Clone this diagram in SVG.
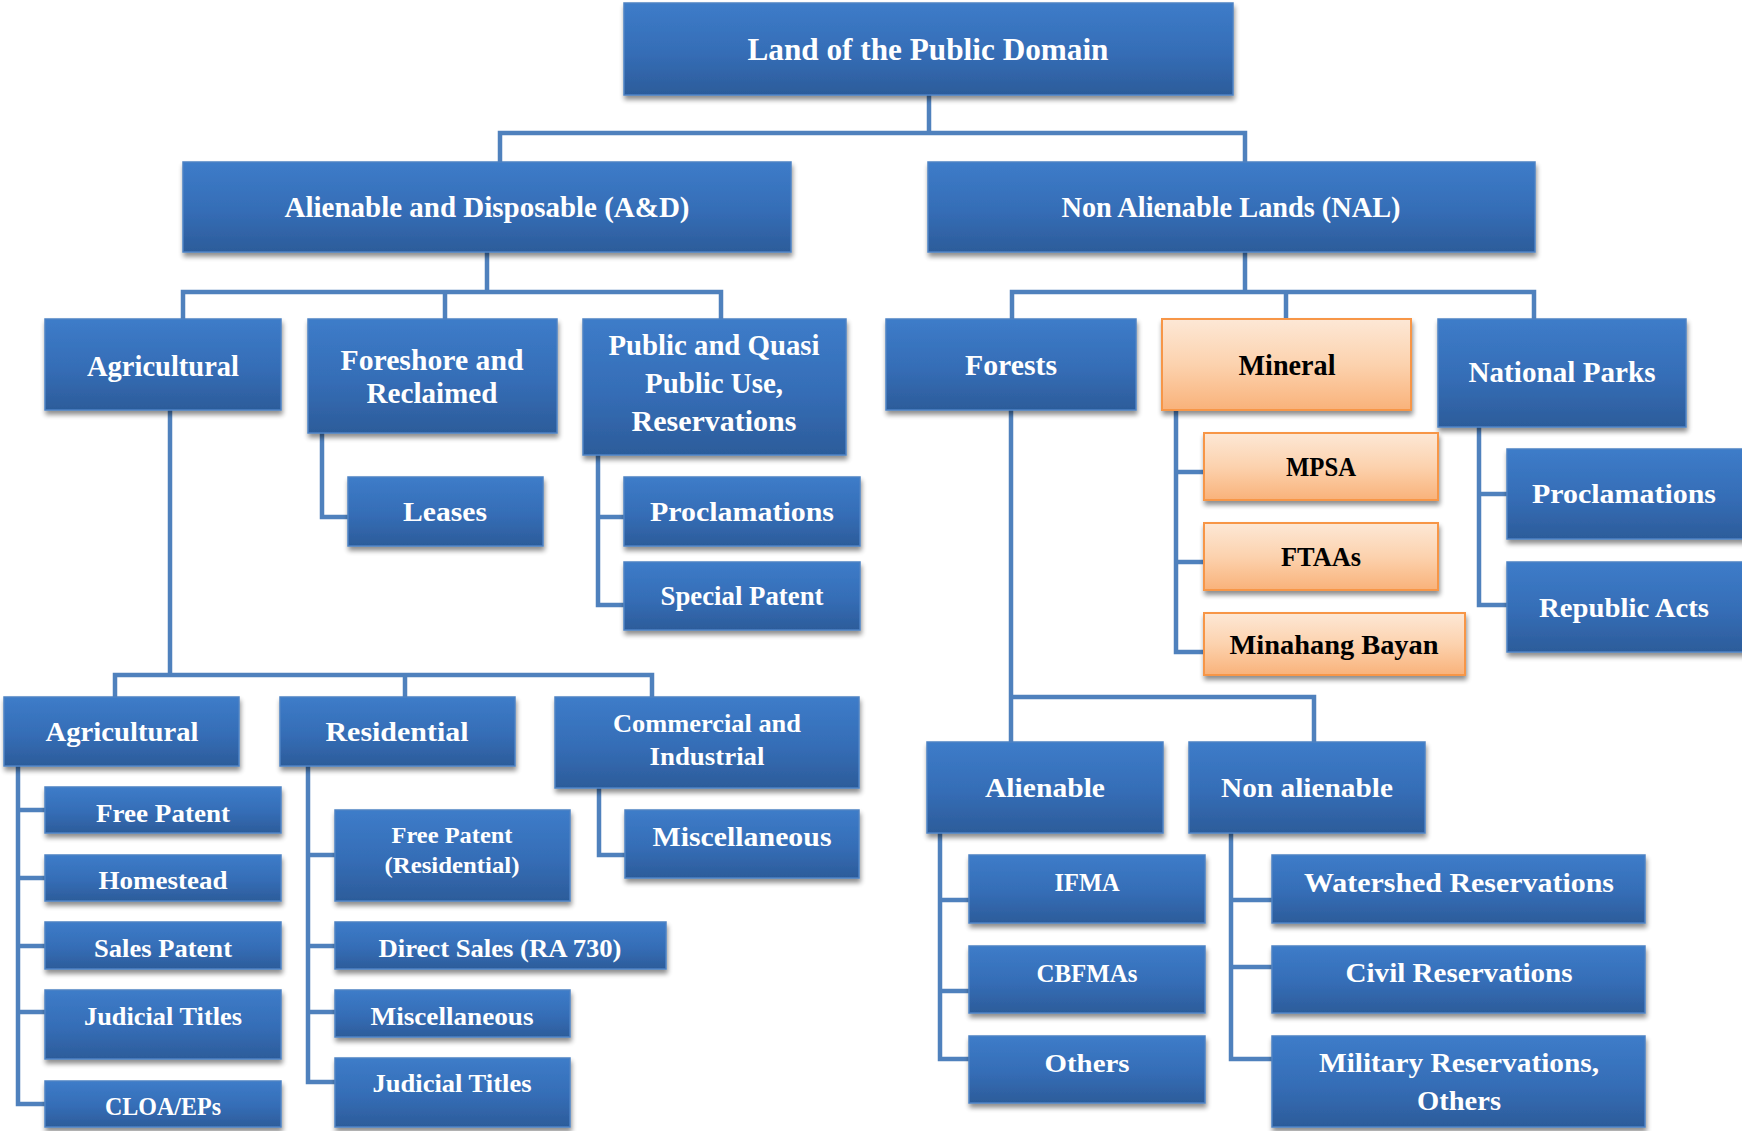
<svg xmlns="http://www.w3.org/2000/svg" width="1742" height="1131" viewBox="0 0 1742 1131">
<defs>
<linearGradient id="blue" x1="0" y1="0" x2="0" y2="1">
<stop offset="0" stop-color="#3d7cc9"/>
<stop offset="0.55" stop-color="#356db6"/>
<stop offset="1" stop-color="#2c5c9a"/>
</linearGradient>
<linearGradient id="orange" x1="0" y1="0" x2="0" y2="1">
<stop offset="0" stop-color="#fde8d6"/>
<stop offset="0.5" stop-color="#fcd2ae"/>
<stop offset="1" stop-color="#f9b27a"/>
</linearGradient>
<filter id="sh" x="-10%" y="-10%" width="120%" height="140%">
<feGaussianBlur in="SourceAlpha" stdDeviation="2.5"/>
<feOffset dx="1" dy="4" result="b"/>
<feComponentTransfer><feFuncA type="linear" slope="0.45"/></feComponentTransfer>
<feMerge><feMergeNode/><feMergeNode in="SourceGraphic"/></feMerge>
</filter>
</defs>
<style>
.b{fill:url(#blue);stroke:#4d82c4;stroke-width:1.5;filter:url(#sh)}
.o{fill:url(#orange);stroke:#f79646;stroke-width:2;filter:url(#sh)}
.t{font-family:"Liberation Serif","DejaVu Serif",serif;font-weight:bold;fill:#ffffff;text-anchor:middle}
.k{fill:#000000}
.c{fill:none;stroke:#4f81bd;stroke-width:4.5;stroke-linejoin:miter;stroke-linecap:butt}
</style>
<rect width="1742" height="1131" fill="#ffffff"/>

<g id="connectors">
<path class="c" d="M929 95V133M500 162V133H1245V162"/>
<path class="c" d="M487 252V292M183 320V292H721V320M445 292V320"/>
<path class="c" d="M1245 252V292M1012 320V292H1534V320M1286 292V320"/>
<path class="c" d="M322 433V517H348"/>
<path class="c" d="M598 455V605H624M598 517H624"/>
<path class="c" d="M1176 410V652H1204M1176 472H1204M1176 562H1204"/>
<path class="c" d="M1479 427V605H1507M1479 494H1507"/>
<path class="c" d="M170 410V675M115 697V675H652V697M405 675V697"/>
<path class="c" d="M18 766V1104H45M18 810H45M18 878H45M18 946H45M18 1012H45"/>
<path class="c" d="M308 766V1082H335M308 855H335M308 946H335M308 1012H335"/>
<path class="c" d="M599 788V855H625"/>
<path class="c" d="M1011 410V697M1011 742V697H1314V742"/>
<path class="c" d="M940 833V1059H969M940 900H969M940 991H969"/>
<path class="c" d="M1231 833V1059H1272M1231 900H1272M1231 967H1272"/>
</g>

<g id="root"><rect class="b" x="624" y="3" width="609" height="92"/><text class="t" x="928" y="60" font-size="31" textLength="361" lengthAdjust="spacingAndGlyphs">Land of the Public Domain</text></g>
<g id="ad"><rect class="b" x="183" y="162" width="608" height="90"/><text class="t" x="487" y="217" font-size="30" textLength="405" lengthAdjust="spacingAndGlyphs">Alienable and Disposable (A&amp;D)</text></g>
<g id="nal"><rect class="b" x="928" y="162" width="607" height="90"/><text class="t" x="1231" y="217" font-size="30" textLength="339" lengthAdjust="spacingAndGlyphs">Non Alienable Lands (NAL)</text></g>

<g id="agri"><rect class="b" x="45" y="319" width="236" height="91"/><text class="t" x="163" y="376" font-size="29" textLength="152" lengthAdjust="spacingAndGlyphs">Agricultural</text></g>
<g id="foreshore"><rect class="b" x="308" y="319" width="249" height="114"/><text class="t" x="432" y="370" font-size="29" textLength="183" lengthAdjust="spacingAndGlyphs">Foreshore and</text><text class="t" x="432" y="403" font-size="29" textLength="131" lengthAdjust="spacingAndGlyphs">Reclaimed</text></g>
<g id="public"><rect class="b" x="583" y="319" width="263" height="136"/><text class="t" x="714" y="355" font-size="29" textLength="211" lengthAdjust="spacingAndGlyphs">Public and Quasi</text><text class="t" x="714" y="393" font-size="29" textLength="138" lengthAdjust="spacingAndGlyphs">Public Use,</text><text class="t" x="714" y="431" font-size="29" textLength="165" lengthAdjust="spacingAndGlyphs">Reservations</text></g>
<g id="forests"><rect class="b" x="886" y="319" width="250" height="91"/><text class="t" x="1011" y="375" font-size="29" textLength="92" lengthAdjust="spacingAndGlyphs">Forests</text></g>
<g id="mineral"><rect class="o" x="1162" y="319" width="249" height="91"/><text class="t k" x="1287" y="375" font-size="29" textLength="97" lengthAdjust="spacingAndGlyphs">Mineral</text></g>
<g id="nationalparks"><rect class="b" x="1438" y="319" width="248" height="108"/><text class="t" x="1562" y="382" font-size="29" textLength="187" lengthAdjust="spacingAndGlyphs">National Parks</text></g>

<g id="leases"><rect class="b" x="348" y="477" width="195" height="69"/><text class="t" x="445" y="521" font-size="28" textLength="84" lengthAdjust="spacingAndGlyphs">Leases</text></g>
<g id="proclamations1"><rect class="b" x="624" y="477" width="236" height="69"/><text class="t" x="742" y="521" font-size="28" textLength="184" lengthAdjust="spacingAndGlyphs">Proclamations</text></g>
<g id="specialpatent"><rect class="b" x="624" y="562" width="236" height="68"/><text class="t" x="742" y="605" font-size="27" textLength="163" lengthAdjust="spacingAndGlyphs">Special Patent</text></g>
<g id="mpsa"><rect class="o" x="1204" y="433" width="234" height="67"/><text class="t k" x="1321" y="476" font-size="28" textLength="70" lengthAdjust="spacingAndGlyphs">MPSA</text></g>
<g id="ftaas"><rect class="o" x="1204" y="523" width="234" height="67"/><text class="t k" x="1321" y="566" font-size="28" textLength="80" lengthAdjust="spacingAndGlyphs">FTAAs</text></g>
<g id="minahang"><rect class="o" x="1204" y="613" width="261" height="62"/><text class="t k" x="1334" y="654" font-size="28" textLength="209" lengthAdjust="spacingAndGlyphs">Minahang Bayan</text></g>
<g id="proclamations2"><rect class="b" x="1507" y="449" width="240" height="90"/><text class="t" x="1624" y="503" font-size="28" textLength="184" lengthAdjust="spacingAndGlyphs">Proclamations</text></g>
<g id="republicacts"><rect class="b" x="1507" y="562" width="240" height="90"/><text class="t" x="1624" y="617" font-size="28" textLength="170" lengthAdjust="spacingAndGlyphs">Republic Acts</text></g>

<g id="agri3"><rect class="b" x="4" y="697" width="235" height="69"/><text class="t" x="122" y="741" font-size="28" textLength="153" lengthAdjust="spacingAndGlyphs">Agricultural</text></g>
<g id="residential"><rect class="b" x="280" y="697" width="235" height="69"/><text class="t" x="397" y="741" font-size="28" textLength="143" lengthAdjust="spacingAndGlyphs">Residential</text></g>
<g id="commercial"><rect class="b" x="555" y="697" width="304" height="91"/><text class="t" x="707" y="732" font-size="26" textLength="188" lengthAdjust="spacingAndGlyphs">Commercial and</text><text class="t" x="707" y="765" font-size="26" textLength="115" lengthAdjust="spacingAndGlyphs">Industrial</text></g>

<g id="freepatent"><rect class="b" x="45" y="787" width="236" height="46"/><text class="t" x="163" y="822" font-size="26" textLength="134" lengthAdjust="spacingAndGlyphs">Free Patent</text></g>
<g id="homestead"><rect class="b" x="45" y="855" width="236" height="46"/><text class="t" x="163" y="889" font-size="25" textLength="129" lengthAdjust="spacingAndGlyphs">Homestead</text></g>
<g id="salespatent"><rect class="b" x="45" y="922" width="236" height="47"/><text class="t" x="163" y="957" font-size="25" textLength="138" lengthAdjust="spacingAndGlyphs">Sales Patent</text></g>
<g id="judicial1"><rect class="b" x="45" y="990" width="236" height="69"/><text class="t" x="163" y="1025" font-size="26" textLength="158" lengthAdjust="spacingAndGlyphs">Judicial Titles</text></g>
<g id="cloa"><rect class="b" x="45" y="1081" width="236" height="46"/><text class="t" x="163" y="1115" font-size="25" textLength="116" lengthAdjust="spacingAndGlyphs">CLOA/EPs</text></g>

<g id="freepatentres"><rect class="b" x="335" y="810" width="235" height="91"/><text class="t" x="452" y="843" font-size="23" textLength="121" lengthAdjust="spacingAndGlyphs">Free Patent</text><text class="t" x="452" y="873" font-size="23" textLength="135" lengthAdjust="spacingAndGlyphs">(Residential)</text></g>
<g id="directsales"><rect class="b" x="335" y="922" width="331" height="47"/><text class="t" x="500" y="957" font-size="25" textLength="243" lengthAdjust="spacingAndGlyphs">Direct Sales (RA 730)</text></g>
<g id="misc1"><rect class="b" x="335" y="990" width="235" height="47"/><text class="t" x="452" y="1025" font-size="25" textLength="163" lengthAdjust="spacingAndGlyphs">Miscellaneous</text></g>
<g id="judicial2"><rect class="b" x="335" y="1058" width="235" height="69"/><text class="t" x="452" y="1092" font-size="26" textLength="159" lengthAdjust="spacingAndGlyphs">Judicial Titles</text></g>
<g id="misc2"><rect class="b" x="625" y="810" width="234" height="68"/><text class="t" x="742" y="846" font-size="27" textLength="179" lengthAdjust="spacingAndGlyphs">Miscellaneous</text></g>

<g id="alienable"><rect class="b" x="927" y="742" width="236" height="91"/><text class="t" x="1045" y="797" font-size="28" textLength="120" lengthAdjust="spacingAndGlyphs">Alienable</text></g>
<g id="nonalienable"><rect class="b" x="1189" y="742" width="236" height="91"/><text class="t" x="1307" y="797" font-size="28" textLength="172" lengthAdjust="spacingAndGlyphs">Non alienable</text></g>
<g id="ifma"><rect class="b" x="969" y="855" width="236" height="68"/><text class="t" x="1087" y="891" font-size="26" textLength="65" lengthAdjust="spacingAndGlyphs">IFMA</text></g>
<g id="cbfmas"><rect class="b" x="969" y="946" width="236" height="67"/><text class="t" x="1087" y="982" font-size="26" textLength="101" lengthAdjust="spacingAndGlyphs">CBFMAs</text></g>
<g id="others1"><rect class="b" x="969" y="1036" width="236" height="67"/><text class="t" x="1087" y="1072" font-size="26" textLength="85" lengthAdjust="spacingAndGlyphs">Others</text></g>
<g id="watershed"><rect class="b" x="1272" y="855" width="373" height="68"/><text class="t" x="1459" y="892" font-size="27" textLength="310" lengthAdjust="spacingAndGlyphs">Watershed Reservations</text></g>
<g id="civil"><rect class="b" x="1272" y="946" width="373" height="67"/><text class="t" x="1459" y="982" font-size="27" textLength="227" lengthAdjust="spacingAndGlyphs">Civil Reservations</text></g>
<g id="military"><rect class="b" x="1272" y="1036" width="373" height="91"/><text class="t" x="1459" y="1072" font-size="27" textLength="280" lengthAdjust="spacingAndGlyphs">Military Reservations,</text><text class="t" x="1459" y="1110" font-size="27" textLength="84" lengthAdjust="spacingAndGlyphs">Others</text></g>
</svg>
